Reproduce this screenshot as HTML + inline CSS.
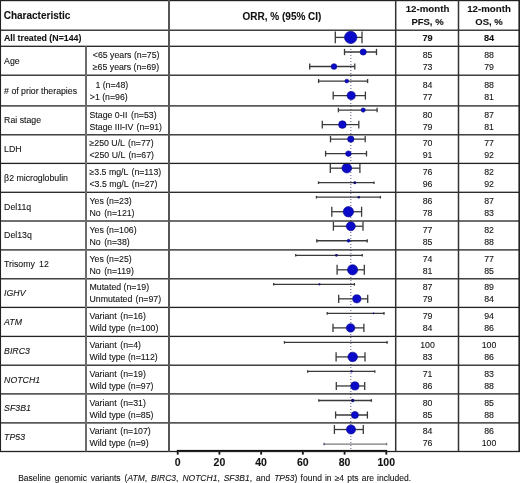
<!DOCTYPE html>
<html><head><meta charset="utf-8"><title>Forest plot</title>
<style>html,body{margin:0;padding:0;background:#fff;}body{width:520px;height:483px;overflow:hidden;}svg{display:block;}</style>
</head><body>
<svg width="520" height="483" viewBox="0 0 520 483" font-family='"Liberation Sans", Arial, sans-serif'>
<rect x="0" y="0" width="520" height="483" fill="#fff"/>
<style>text{stroke:#222;stroke-width:0.1px;}</style>
<line x1="350.8" y1="31" x2="350.8" y2="450" stroke="#8080a4" stroke-width="1.3" stroke-dasharray="1.1,1.9"/>
<line x1="335.3" y1="37.4" x2="362.0" y2="37.4" stroke="#3a3a3a" stroke-width="1.3"/><line x1="335.3" y1="31.50" x2="335.3" y2="43.30" stroke="#3a3a3a" stroke-width="1.3"/><line x1="362.0" y1="31.50" x2="362.0" y2="43.30" stroke="#3a3a3a" stroke-width="1.3"/><circle cx="350.7" cy="37.4" r="6.20" fill="#0a0ac8" stroke="#05058c" stroke-width="0.6"/>
<line x1="344.5" y1="52.0" x2="376.5" y2="52.0" stroke="#3a3a3a" stroke-width="1.3"/><line x1="344.5" y1="48.85" x2="344.5" y2="55.15" stroke="#3a3a3a" stroke-width="1.3"/><line x1="376.5" y1="48.85" x2="376.5" y2="55.15" stroke="#3a3a3a" stroke-width="1.3"/><circle cx="363.2" cy="52.0" r="3.12" fill="#0a0ac8" stroke="#05058c" stroke-width="0.6"/>
<line x1="309.7" y1="66.52" x2="354.8" y2="66.52" stroke="#3a3a3a" stroke-width="1.3"/><line x1="309.7" y1="63.62" x2="309.7" y2="69.42" stroke="#3a3a3a" stroke-width="1.3"/><line x1="354.8" y1="63.62" x2="354.8" y2="69.42" stroke="#3a3a3a" stroke-width="1.3"/><circle cx="334.0" cy="66.52" r="2.85" fill="#0a0ac8" stroke="#05058c" stroke-width="0.6"/>
<line x1="318.6" y1="81.04" x2="367.6" y2="81.04" stroke="#3a3a3a" stroke-width="1.3"/><line x1="318.6" y1="79.01" x2="318.6" y2="83.07" stroke="#3a3a3a" stroke-width="1.3"/><line x1="367.6" y1="79.01" x2="367.6" y2="83.07" stroke="#3a3a3a" stroke-width="1.3"/><circle cx="346.8" cy="81.04" r="1.91" fill="#0a0ac8" stroke="#05058c" stroke-width="0.6"/>
<line x1="333.2" y1="95.56" x2="365.4" y2="95.56" stroke="#3a3a3a" stroke-width="1.3"/><line x1="333.2" y1="91.54" x2="333.2" y2="99.58" stroke="#3a3a3a" stroke-width="1.3"/><line x1="365.4" y1="91.54" x2="365.4" y2="99.58" stroke="#3a3a3a" stroke-width="1.3"/><circle cx="351.2" cy="95.56" r="4.07" fill="#0a0ac8" stroke="#05058c" stroke-width="0.6"/>
<line x1="338.4" y1="110.08" x2="377.1" y2="110.08" stroke="#3a3a3a" stroke-width="1.3"/><line x1="338.4" y1="107.84" x2="338.4" y2="112.32" stroke="#3a3a3a" stroke-width="1.3"/><line x1="377.1" y1="107.84" x2="377.1" y2="112.32" stroke="#3a3a3a" stroke-width="1.3"/><circle cx="363.2" cy="110.08" r="2.13" fill="#0a0ac8" stroke="#05058c" stroke-width="0.6"/>
<line x1="322.3" y1="124.6" x2="358.8" y2="124.6" stroke="#3a3a3a" stroke-width="1.3"/><line x1="322.3" y1="120.79" x2="322.3" y2="128.41" stroke="#3a3a3a" stroke-width="1.3"/><line x1="358.8" y1="120.79" x2="358.8" y2="128.41" stroke="#3a3a3a" stroke-width="1.3"/><circle cx="342.4" cy="124.6" r="3.84" fill="#0a0ac8" stroke="#05058c" stroke-width="0.6"/>
<line x1="330.5" y1="139.12" x2="365.2" y2="139.12" stroke="#3a3a3a" stroke-width="1.3"/><line x1="330.5" y1="135.89" x2="330.5" y2="142.35" stroke="#3a3a3a" stroke-width="1.3"/><line x1="365.2" y1="135.89" x2="365.2" y2="142.35" stroke="#3a3a3a" stroke-width="1.3"/><circle cx="350.8" cy="139.12" r="3.21" fill="#0a0ac8" stroke="#05058c" stroke-width="0.6"/>
<line x1="325.6" y1="153.64" x2="366.5" y2="153.64" stroke="#3a3a3a" stroke-width="1.3"/><line x1="325.6" y1="150.82" x2="325.6" y2="156.46" stroke="#3a3a3a" stroke-width="1.3"/><line x1="366.5" y1="150.82" x2="366.5" y2="156.46" stroke="#3a3a3a" stroke-width="1.3"/><circle cx="348.4" cy="153.64" r="2.76" fill="#0a0ac8" stroke="#05058c" stroke-width="0.6"/>
<line x1="330.3" y1="168.16" x2="359.9" y2="168.16" stroke="#3a3a3a" stroke-width="1.3"/><line x1="330.3" y1="163.44" x2="330.3" y2="172.88" stroke="#3a3a3a" stroke-width="1.3"/><line x1="359.9" y1="163.44" x2="359.9" y2="172.88" stroke="#3a3a3a" stroke-width="1.3"/><circle cx="346.8" cy="168.16" r="4.83" fill="#0a0ac8" stroke="#05058c" stroke-width="0.6"/>
<line x1="318.5" y1="182.68" x2="374.0" y2="182.68" stroke="#3a3a3a" stroke-width="1.3"/><line x1="318.5" y1="181.38" x2="318.5" y2="183.98" stroke="#3a3a3a" stroke-width="1.3"/><line x1="374.0" y1="181.38" x2="374.0" y2="183.98" stroke="#3a3a3a" stroke-width="1.3"/><circle cx="354.8" cy="182.68" r="1.46" fill="#101070"/>
<line x1="316.4" y1="197.2" x2="380.4" y2="197.2" stroke="#3a3a3a" stroke-width="1.3"/><line x1="316.4" y1="195.90" x2="316.4" y2="198.50" stroke="#3a3a3a" stroke-width="1.3"/><line x1="380.4" y1="195.90" x2="380.4" y2="198.50" stroke="#3a3a3a" stroke-width="1.3"/><circle cx="358.8" cy="197.2" r="1.28" fill="#101070"/>
<line x1="331.8" y1="211.72" x2="361.6" y2="211.72" stroke="#3a3a3a" stroke-width="1.3"/><line x1="331.8" y1="206.67" x2="331.8" y2="216.77" stroke="#3a3a3a" stroke-width="1.3"/><line x1="361.6" y1="206.67" x2="361.6" y2="216.77" stroke="#3a3a3a" stroke-width="1.3"/><circle cx="348.4" cy="211.72" r="5.19" fill="#0a0ac8" stroke="#05058c" stroke-width="0.6"/>
<line x1="333.4" y1="226.24" x2="363.0" y2="226.24" stroke="#3a3a3a" stroke-width="1.3"/><line x1="333.4" y1="221.81" x2="333.4" y2="230.67" stroke="#3a3a3a" stroke-width="1.3"/><line x1="363.0" y1="221.81" x2="363.0" y2="230.67" stroke="#3a3a3a" stroke-width="1.3"/><circle cx="350.8" cy="226.24" r="4.52" fill="#0a0ac8" stroke="#05058c" stroke-width="0.6"/>
<line x1="316.8" y1="240.76" x2="367.2" y2="240.76" stroke="#3a3a3a" stroke-width="1.3"/><line x1="316.8" y1="239.14" x2="316.8" y2="242.38" stroke="#3a3a3a" stroke-width="1.3"/><line x1="367.2" y1="239.14" x2="367.2" y2="242.38" stroke="#3a3a3a" stroke-width="1.3"/><circle cx="348.6" cy="240.76" r="1.46" fill="#0a0ac8" stroke="#05058c" stroke-width="0.6"/>
<line x1="295.7" y1="255.28" x2="362.3" y2="255.28" stroke="#3a3a3a" stroke-width="1.3"/><line x1="295.7" y1="253.98" x2="295.7" y2="256.58" stroke="#3a3a3a" stroke-width="1.3"/><line x1="362.3" y1="253.98" x2="362.3" y2="256.58" stroke="#3a3a3a" stroke-width="1.3"/><circle cx="336.4" cy="255.28" r="1.38" fill="#101070"/>
<line x1="337.1" y1="269.8" x2="364.3" y2="269.8" stroke="#3a3a3a" stroke-width="1.3"/><line x1="337.1" y1="264.83" x2="337.1" y2="274.77" stroke="#3a3a3a" stroke-width="1.3"/><line x1="364.3" y1="264.83" x2="364.3" y2="274.77" stroke="#3a3a3a" stroke-width="1.3"/><circle cx="352.6" cy="269.8" r="5.10" fill="#0a0ac8" stroke="#05058c" stroke-width="0.6"/>
<line x1="273.7" y1="284.32" x2="354.4" y2="284.32" stroke="#3a3a3a" stroke-width="1.3"/><line x1="273.7" y1="283.02" x2="273.7" y2="285.62" stroke="#3a3a3a" stroke-width="1.3"/><line x1="354.4" y1="283.02" x2="354.4" y2="285.62" stroke="#3a3a3a" stroke-width="1.3"/><circle cx="319.4" cy="284.32" r="1.11" fill="#101070"/>
<line x1="338.7" y1="298.84" x2="367.7" y2="298.84" stroke="#3a3a3a" stroke-width="1.3"/><line x1="338.7" y1="294.77" x2="338.7" y2="302.91" stroke="#3a3a3a" stroke-width="1.3"/><line x1="367.7" y1="294.77" x2="367.7" y2="302.91" stroke="#3a3a3a" stroke-width="1.3"/><circle cx="356.8" cy="298.84" r="4.12" fill="#0a0ac8" stroke="#05058c" stroke-width="0.6"/>
<line x1="327.2" y1="313.36" x2="384.0" y2="313.36" stroke="#3a3a3a" stroke-width="1.3"/><line x1="327.2" y1="312.06" x2="327.2" y2="314.66" stroke="#3a3a3a" stroke-width="1.3"/><line x1="384.0" y1="312.06" x2="384.0" y2="314.66" stroke="#3a3a3a" stroke-width="1.3"/><circle cx="373.6" cy="313.36" r="0.97" fill="#101070"/>
<line x1="333.0" y1="327.88" x2="363.9" y2="327.88" stroke="#3a3a3a" stroke-width="1.3"/><line x1="333.0" y1="323.69" x2="333.0" y2="332.07" stroke="#3a3a3a" stroke-width="1.3"/><line x1="363.9" y1="323.69" x2="363.9" y2="332.07" stroke="#3a3a3a" stroke-width="1.3"/><circle cx="350.6" cy="327.88" r="4.25" fill="#0a0ac8" stroke="#05058c" stroke-width="0.6"/>
<line x1="284.4" y1="342.4" x2="387.1" y2="342.4" stroke="#3a3a3a" stroke-width="1.3"/><line x1="284.4" y1="341.10" x2="284.4" y2="343.70" stroke="#3a3a3a" stroke-width="1.3"/><line x1="387.1" y1="341.10" x2="387.1" y2="343.70" stroke="#3a3a3a" stroke-width="1.3"/><circle cx="386.5" cy="342.4" r="0.43" fill="#101070"/>
<line x1="336.1" y1="356.92" x2="365.0" y2="356.92" stroke="#3a3a3a" stroke-width="1.3"/><line x1="336.1" y1="352.24" x2="336.1" y2="361.60" stroke="#3a3a3a" stroke-width="1.3"/><line x1="365.0" y1="352.24" x2="365.0" y2="361.60" stroke="#3a3a3a" stroke-width="1.3"/><circle cx="352.7" cy="356.92" r="4.79" fill="#0a0ac8" stroke="#05058c" stroke-width="0.6"/>
<line x1="307.7" y1="371.44" x2="374.8" y2="371.44" stroke="#3a3a3a" stroke-width="1.3"/><line x1="307.7" y1="370.14" x2="307.7" y2="372.74" stroke="#3a3a3a" stroke-width="1.3"/><line x1="374.8" y1="370.14" x2="374.8" y2="372.74" stroke="#3a3a3a" stroke-width="1.3"/><circle cx="351.7" cy="371.44" r="1.11" fill="#101070"/>
<line x1="336.3" y1="385.96" x2="364.7" y2="385.96" stroke="#3a3a3a" stroke-width="1.3"/><line x1="336.3" y1="381.89" x2="336.3" y2="390.03" stroke="#3a3a3a" stroke-width="1.3"/><line x1="364.7" y1="381.89" x2="364.7" y2="390.03" stroke="#3a3a3a" stroke-width="1.3"/><circle cx="354.9" cy="385.96" r="4.12" fill="#0a0ac8" stroke="#05058c" stroke-width="0.6"/>
<line x1="318.8" y1="400.48" x2="371.4" y2="400.48" stroke="#3a3a3a" stroke-width="1.3"/><line x1="318.8" y1="399.15" x2="318.8" y2="401.81" stroke="#3a3a3a" stroke-width="1.3"/><line x1="371.4" y1="399.15" x2="371.4" y2="401.81" stroke="#3a3a3a" stroke-width="1.3"/><circle cx="352.7" cy="400.48" r="1.65" fill="#101070"/>
<line x1="335.6" y1="415.0" x2="367.4" y2="415.0" stroke="#3a3a3a" stroke-width="1.3"/><line x1="335.6" y1="411.44" x2="335.6" y2="418.56" stroke="#3a3a3a" stroke-width="1.3"/><line x1="367.4" y1="411.44" x2="367.4" y2="418.56" stroke="#3a3a3a" stroke-width="1.3"/><circle cx="354.9" cy="415.0" r="3.57" fill="#0a0ac8" stroke="#05058c" stroke-width="0.6"/>
<line x1="334.4" y1="429.52" x2="363.3" y2="429.52" stroke="#3a3a3a" stroke-width="1.3"/><line x1="334.4" y1="425.05" x2="334.4" y2="433.99" stroke="#3a3a3a" stroke-width="1.3"/><line x1="363.3" y1="425.05" x2="363.3" y2="433.99" stroke="#3a3a3a" stroke-width="1.3"/><circle cx="351.0" cy="429.52" r="4.56" fill="#0a0ac8" stroke="#05058c" stroke-width="0.6"/>
<line x1="324.1" y1="444.04" x2="386.6" y2="444.04" stroke="#7a7a7a" stroke-width="1.3"/><line x1="324.1" y1="442.74" x2="324.1" y2="445.34" stroke="#7a7a7a" stroke-width="1.3"/><line x1="386.6" y1="442.74" x2="386.6" y2="445.34" stroke="#7a7a7a" stroke-width="1.3"/><circle cx="324.1" cy="444.04" r="0.65" fill="#101070"/>
<rect x="177" y="449.9" width="210" height="1.8" fill="#111"/>
<rect x="176.80" y="450" width="1.8" height="4.6" fill="#111"/>
<text x="177.70" y="466.2" font-size="10.5" font-weight="bold" text-anchor="middle" fill="#111">0</text>
<rect x="218.52" y="450" width="1.8" height="4.6" fill="#111"/>
<text x="219.42" y="466.2" font-size="10.5" font-weight="bold" text-anchor="middle" fill="#111">20</text>
<rect x="260.24" y="450" width="1.8" height="4.6" fill="#111"/>
<text x="261.14" y="466.2" font-size="10.5" font-weight="bold" text-anchor="middle" fill="#111">40</text>
<rect x="301.96" y="450" width="1.8" height="4.6" fill="#111"/>
<text x="302.86" y="466.2" font-size="10.5" font-weight="bold" text-anchor="middle" fill="#111">60</text>
<rect x="343.68" y="450" width="1.8" height="4.6" fill="#111"/>
<text x="344.58" y="466.2" font-size="10.5" font-weight="bold" text-anchor="middle" fill="#111">80</text>
<rect x="385.40" y="450" width="1.8" height="4.6" fill="#111"/>
<text x="386.30" y="466.2" font-size="10.5" font-weight="bold" text-anchor="middle" fill="#111">100</text>
<rect x="0" y="0.00" width="520" height="1.2" fill="#222"/>
<rect x="0" y="29.55" width="520" height="1.3" fill="#222"/>
<rect x="0" y="45.65" width="520" height="1.3" fill="#222"/>
<rect x="0" y="74.55" width="520" height="1.3" fill="#222"/>
<rect x="0" y="105.25" width="520" height="1.3" fill="#222"/>
<rect x="0" y="134.15" width="520" height="1.3" fill="#222"/>
<rect x="0" y="162.75" width="520" height="1.3" fill="#222"/>
<rect x="0" y="191.65" width="520" height="1.3" fill="#222"/>
<rect x="0" y="220.35" width="520" height="1.3" fill="#222"/>
<rect x="0" y="249.25" width="520" height="1.3" fill="#222"/>
<rect x="0" y="278.15" width="520" height="1.3" fill="#222"/>
<rect x="0" y="306.75" width="520" height="1.3" fill="#222"/>
<rect x="0" y="335.75" width="520" height="1.3" fill="#222"/>
<rect x="0" y="364.55" width="520" height="1.3" fill="#222"/>
<rect x="0" y="393.25" width="520" height="1.3" fill="#222"/>
<rect x="0" y="422.25" width="520" height="1.3" fill="#222"/>
<rect x="0" y="450.85" width="520" height="1.3" fill="#222"/>
<rect x="-0.05" y="0" width="1.1" height="451.50" fill="#222"/>
<rect x="85.00" y="46.3" width="2.0" height="405.20" fill="#6c6c6c"/>
<rect x="168.00" y="0" width="2.0" height="451.50" fill="#555"/>
<rect x="394.95" y="0" width="1.5" height="451.50" fill="#333"/>
<rect x="457.75" y="0" width="1.5" height="451.50" fill="#333"/>
<rect x="518.40" y="0" width="1.6" height="451.50" fill="#222"/>
<text x="3.7" y="19.3" font-size="10" font-weight="bold" fill="#111">Characteristic</text>
<text x="282" y="19.6" font-size="10" font-weight="bold" text-anchor="middle" fill="#111">ORR, % (95% CI)</text>
<text x="427.5" y="11.5" font-size="9.7" font-weight="bold" text-anchor="middle" fill="#111">12-month</text>
<text x="427.5" y="25.4" font-size="9.5" font-weight="bold" text-anchor="middle" fill="#111">PFS, %</text>
<text x="489.0" y="11.5" font-size="9.7" font-weight="bold" text-anchor="middle" fill="#111">12-month</text>
<text x="489.0" y="25.4" font-size="9.5" font-weight="bold" text-anchor="middle" fill="#111">OS, %</text>
<text x="3.9" y="41.3" font-size="8.8" font-weight="bold" fill="#111">All treated (N=144)</text>
<text x="427.5" y="41.3" font-size="9.2" font-weight="bold" text-anchor="middle" fill="#111">79</text>
<text x="489.0" y="41.3" font-size="9.2" font-weight="bold" text-anchor="middle" fill="#111">84</text>
<text x="4.1" y="63.75" font-size="8.75" fill="#111">Age</text>
<text x="92.8" y="57.90" font-size="8.75" fill="#111" xml:space="preserve">&lt;65 years (n=75)</text>
<text x="427.5" y="57.90" font-size="8.75" text-anchor="middle" fill="#111">85</text>
<text x="489.0" y="57.90" font-size="8.75" text-anchor="middle" fill="#111">88</text>
<text x="92.8" y="69.90" font-size="8.75" fill="#111" xml:space="preserve">≥65 years (n=69)</text>
<text x="427.5" y="69.90" font-size="8.75" text-anchor="middle" fill="#111">73</text>
<text x="489.0" y="69.90" font-size="8.75" text-anchor="middle" fill="#111">79</text>
<text x="4.1" y="93.55" font-size="8.75" fill="#111"># of prior therapies</text>
<text x="95.4" y="87.70" font-size="8.75" fill="#111" xml:space="preserve">1 (n=48)</text>
<text x="427.5" y="87.70" font-size="8.75" text-anchor="middle" fill="#111">84</text>
<text x="489.0" y="87.70" font-size="8.75" text-anchor="middle" fill="#111">88</text>
<text x="89.8" y="99.70" font-size="8.75" fill="#111" xml:space="preserve">&gt;1 (n=96)</text>
<text x="427.5" y="99.70" font-size="8.75" text-anchor="middle" fill="#111">77</text>
<text x="489.0" y="99.70" font-size="8.75" text-anchor="middle" fill="#111">81</text>
<text x="4.1" y="123.35" font-size="8.75" fill="#111">Rai stage</text>
<text x="89.5" y="117.50" font-size="8.75" fill="#111" xml:space="preserve">Stage 0-II <tspan dx="1.2">(n=53)</tspan></text>
<text x="427.5" y="117.50" font-size="8.75" text-anchor="middle" fill="#111">80</text>
<text x="489.0" y="117.50" font-size="8.75" text-anchor="middle" fill="#111">87</text>
<text x="89.5" y="129.50" font-size="8.75" fill="#111" xml:space="preserve">Stage III-IV <tspan dx="0.8">(n=91)</tspan></text>
<text x="427.5" y="129.50" font-size="8.75" text-anchor="middle" fill="#111">79</text>
<text x="489.0" y="129.50" font-size="8.75" text-anchor="middle" fill="#111">81</text>
<text x="4.1" y="152.10" font-size="8.75" fill="#111">LDH</text>
<text x="89.5" y="146.25" font-size="8.75" fill="#111" xml:space="preserve">≥250 U/L <tspan dx="1">(n=77)</tspan></text>
<text x="427.5" y="146.25" font-size="8.75" text-anchor="middle" fill="#111">70</text>
<text x="489.0" y="146.25" font-size="8.75" text-anchor="middle" fill="#111">77</text>
<text x="89.5" y="158.25" font-size="8.75" fill="#111" xml:space="preserve">&lt;250 U/L <tspan dx="1">(n=67)</tspan></text>
<text x="427.5" y="158.25" font-size="8.75" text-anchor="middle" fill="#111">91</text>
<text x="489.0" y="158.25" font-size="8.75" text-anchor="middle" fill="#111">92</text>
<text x="4.1" y="180.85" font-size="8.75" fill="#111">β2 microglobulin</text>
<text x="89.5" y="175.00" font-size="8.75" fill="#111" xml:space="preserve">≥3.5 mg/L <tspan dx="1">(n=113)</tspan></text>
<text x="427.5" y="175.00" font-size="8.75" text-anchor="middle" fill="#111">76</text>
<text x="489.0" y="175.00" font-size="8.75" text-anchor="middle" fill="#111">82</text>
<text x="89.5" y="187.00" font-size="8.75" fill="#111" xml:space="preserve">&lt;3.5 mg/L <tspan dx="1">(n=27)</tspan></text>
<text x="427.5" y="187.00" font-size="8.75" text-anchor="middle" fill="#111">96</text>
<text x="489.0" y="187.00" font-size="8.75" text-anchor="middle" fill="#111">92</text>
<text x="4.1" y="209.65" font-size="8.75" fill="#111">Del11q</text>
<text x="89.5" y="203.80" font-size="8.75" fill="#111" xml:space="preserve">Yes (n=23)</text>
<text x="427.5" y="203.80" font-size="8.75" text-anchor="middle" fill="#111">86</text>
<text x="489.0" y="203.80" font-size="8.75" text-anchor="middle" fill="#111">87</text>
<text x="89.5" y="215.80" font-size="8.75" fill="#111" xml:space="preserve">No <tspan dx="1">(n=121)</tspan></text>
<text x="427.5" y="215.80" font-size="8.75" text-anchor="middle" fill="#111">78</text>
<text x="489.0" y="215.80" font-size="8.75" text-anchor="middle" fill="#111">83</text>
<text x="4.1" y="238.45" font-size="8.75" fill="#111">Del13q</text>
<text x="89.5" y="232.60" font-size="8.75" fill="#111" xml:space="preserve">Yes (n=106)</text>
<text x="427.5" y="232.60" font-size="8.75" text-anchor="middle" fill="#111">77</text>
<text x="489.0" y="232.60" font-size="8.75" text-anchor="middle" fill="#111">82</text>
<text x="89.5" y="244.60" font-size="8.75" fill="#111" xml:space="preserve">No <tspan dx="1">(n=38)</tspan></text>
<text x="427.5" y="244.60" font-size="8.75" text-anchor="middle" fill="#111">85</text>
<text x="489.0" y="244.60" font-size="8.75" text-anchor="middle" fill="#111">88</text>
<text x="4.1" y="267.35" font-size="8.75" fill="#111">Trisomy <tspan dx="1.8">12</tspan></text>
<text x="89.5" y="261.50" font-size="8.75" fill="#111" xml:space="preserve">Yes (n=25)</text>
<text x="427.5" y="261.50" font-size="8.75" text-anchor="middle" fill="#111">74</text>
<text x="489.0" y="261.50" font-size="8.75" text-anchor="middle" fill="#111">77</text>
<text x="89.5" y="273.50" font-size="8.75" fill="#111" xml:space="preserve">No <tspan dx="1">(n=119)</tspan></text>
<text x="427.5" y="273.50" font-size="8.75" text-anchor="middle" fill="#111">81</text>
<text x="489.0" y="273.50" font-size="8.75" text-anchor="middle" fill="#111">85</text>
<text x="4.1" y="296.10" font-size="8.75" font-style="italic" fill="#111">IGHV</text>
<text x="89.5" y="290.25" font-size="8.75" fill="#111" xml:space="preserve">Mutated (n=19)</text>
<text x="427.5" y="290.25" font-size="8.75" text-anchor="middle" fill="#111">87</text>
<text x="489.0" y="290.25" font-size="8.75" text-anchor="middle" fill="#111">89</text>
<text x="89.5" y="302.25" font-size="8.75" fill="#111" xml:space="preserve">Unmutated <tspan dx="0.8">(n=97)</tspan></text>
<text x="427.5" y="302.25" font-size="8.75" text-anchor="middle" fill="#111">79</text>
<text x="489.0" y="302.25" font-size="8.75" text-anchor="middle" fill="#111">84</text>
<text x="4.1" y="324.90" font-size="8.75" font-style="italic" fill="#111">ATM</text>
<text x="89.5" y="319.05" font-size="8.75" fill="#111" xml:space="preserve">Variant <tspan dx="1.3">(n=16)</tspan></text>
<text x="427.5" y="319.05" font-size="8.75" text-anchor="middle" fill="#111">79</text>
<text x="489.0" y="319.05" font-size="8.75" text-anchor="middle" fill="#111">94</text>
<text x="89.5" y="331.05" font-size="8.75" fill="#111" xml:space="preserve">Wild type (n=100)</text>
<text x="427.5" y="331.05" font-size="8.75" text-anchor="middle" fill="#111">84</text>
<text x="489.0" y="331.05" font-size="8.75" text-anchor="middle" fill="#111">86</text>
<text x="4.1" y="353.80" font-size="8.75" font-style="italic" fill="#111">BIRC3</text>
<text x="89.5" y="347.95" font-size="8.75" fill="#111" xml:space="preserve">Variant <tspan dx="1.3">(n=4)</tspan></text>
<text x="427.5" y="347.95" font-size="8.75" text-anchor="middle" fill="#111">100</text>
<text x="489.0" y="347.95" font-size="8.75" text-anchor="middle" fill="#111">100</text>
<text x="89.5" y="359.95" font-size="8.75" fill="#111" xml:space="preserve">Wild type (n=112)</text>
<text x="427.5" y="359.95" font-size="8.75" text-anchor="middle" fill="#111">83</text>
<text x="489.0" y="359.95" font-size="8.75" text-anchor="middle" fill="#111">86</text>
<text x="4.1" y="382.55" font-size="8.75" font-style="italic" fill="#111">NOTCH1</text>
<text x="89.5" y="376.70" font-size="8.75" fill="#111" xml:space="preserve">Variant <tspan dx="1.3">(n=19)</tspan></text>
<text x="427.5" y="376.70" font-size="8.75" text-anchor="middle" fill="#111">71</text>
<text x="489.0" y="376.70" font-size="8.75" text-anchor="middle" fill="#111">83</text>
<text x="89.5" y="388.70" font-size="8.75" fill="#111" xml:space="preserve">Wild type (n=97)</text>
<text x="427.5" y="388.70" font-size="8.75" text-anchor="middle" fill="#111">86</text>
<text x="489.0" y="388.70" font-size="8.75" text-anchor="middle" fill="#111">88</text>
<text x="4.1" y="411.40" font-size="8.75" font-style="italic" fill="#111">SF3B1</text>
<text x="89.5" y="405.55" font-size="8.75" fill="#111" xml:space="preserve">Variant <tspan dx="1.3">(n=31)</tspan></text>
<text x="427.5" y="405.55" font-size="8.75" text-anchor="middle" fill="#111">80</text>
<text x="489.0" y="405.55" font-size="8.75" text-anchor="middle" fill="#111">85</text>
<text x="89.5" y="417.55" font-size="8.75" fill="#111" xml:space="preserve">Wild type (n=85)</text>
<text x="427.5" y="417.55" font-size="8.75" text-anchor="middle" fill="#111">85</text>
<text x="489.0" y="417.55" font-size="8.75" text-anchor="middle" fill="#111">88</text>
<text x="4.1" y="440.20" font-size="8.75" font-style="italic" fill="#111">TP53</text>
<text x="89.5" y="434.35" font-size="8.75" fill="#111" xml:space="preserve">Variant <tspan dx="1.3">(n=107)</tspan></text>
<text x="427.5" y="434.35" font-size="8.75" text-anchor="middle" fill="#111">84</text>
<text x="489.0" y="434.35" font-size="8.75" text-anchor="middle" fill="#111">86</text>
<text x="89.5" y="446.35" font-size="8.75" fill="#111" xml:space="preserve">Wild type (n=9)</text>
<text x="427.5" y="446.35" font-size="8.75" text-anchor="middle" fill="#111">76</text>
<text x="489.0" y="446.35" font-size="8.75" text-anchor="middle" fill="#111">100</text>
<text x="18.2" y="481" font-size="8.5" fill="#111" word-spacing="1.6" xml:space="preserve">Baseline genomic variants (<tspan font-style="italic">ATM</tspan>, <tspan font-style="italic">BIRC3</tspan>, <tspan font-style="italic">NOTCH1</tspan>, <tspan font-style="italic">SF3B1</tspan>, and <tspan font-style="italic">TP53</tspan>)</text>
<text x="300.6" y="481" font-size="8.5" fill="#111" word-spacing="0.75" xml:space="preserve">found in ≥4 pts are included.</text>
</svg>
</body></html>
